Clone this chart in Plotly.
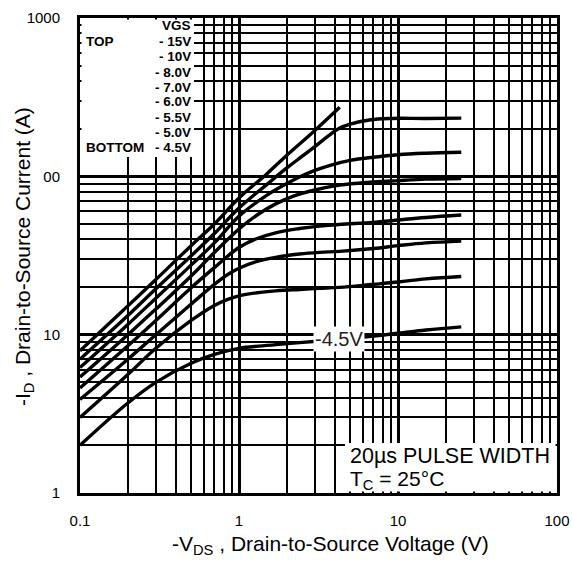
import plotly.graph_objects as go

# ---------------- data ----------------
vgs_labels = ["-15V", "-10V", "-8.0V", "-7.0V", "-6.0V", "-5.5V", "-5.0V", "-4.5V"]

vds_15 = [0.1, 0.15, 0.2, 0.3, 0.5, 0.7, 1.0, 1.5, 2.0, 3.0, 4.3]
id_15 = [7.9, 11.6, 15.2, 22.3, 36.5, 50, 73, 104, 136, 195, 273]

vds_10 = [0.1, 0.2, 0.3, 0.5, 0.7, 1.0, 1.5, 2.0, 2.5, 3.0, 3.7, 4.3, 5.0, 6.6, 9, 15, 25]
id_10 = [7.0, 13.2, 19.5, 31.5, 43.5, 63, 89, 113, 134, 154, 182, 202, 214, 227, 232, 232, 233]

vds_8 = [0.1, 0.2, 0.3, 0.5, 0.7, 1.0, 1.5, 2.0, 2.4, 3.0, 3.7, 5.0, 7, 10, 15, 25]
id_8 = [6.2, 11.6, 17, 27.5, 38, 56, 76, 90, 99, 109, 117, 126, 132, 137, 140, 142]

vds_7 = [0.1, 0.2, 0.3, 0.5, 0.7, 1.0, 1.3, 1.7, 2.2, 3.0, 4.3, 7, 10, 15, 25]
id_7 = [5.4, 10, 14.5, 23.5, 33, 46.5, 57, 67, 75, 82, 88, 92, 94, 96, 97]

vds_6 = [0.1, 0.2, 0.3, 0.5, 0.7, 1.0, 1.3, 1.7, 2.4, 3.2, 4.3, 7, 10, 15, 25]
id_6 = [4.6, 8.5, 12.3, 19.8, 26.5, 35.5, 40.5, 44, 46.8, 48.5, 49.7, 51.2, 53, 55, 57]

vds_55 = [0.1, 0.2, 0.3, 0.5, 0.7, 0.85, 1.0, 1.3, 1.7, 2.4, 3.2, 4.3, 7, 10, 15, 25]
id_55 = [3.9, 7.0, 10, 15.6, 20.8, 24, 26.3, 29, 30.8, 32.3, 33.1, 33.6, 35, 36.5, 38, 39]

vds_5 = [0.1, 0.2, 0.3, 0.5, 0.7, 0.85, 1.0, 1.3, 1.7, 2.4, 3.2, 4.3, 7, 10, 15, 25]
id_5 = [3.0, 5.6, 8.2, 12.3, 15.3, 16.7, 17.6, 18.4, 18.9, 19.3, 19.6, 19.9, 20.8, 21.5, 22.5, 23.3]

vds_45 = [0.1, 0.2, 0.3, 0.5, 0.7, 1.0, 1.4, 2.4, 4.0, 7, 10, 15, 25]
id_45 = [2.0, 3.7, 5.0, 6.6, 7.5, 8.2, 8.5, 8.9, 9.3, 9.8, 10.2, 10.7, 11.2]

series_x = [vds_15, vds_10, vds_8, vds_7, vds_6, vds_55, vds_5, vds_45]
series_y = [id_15, id_10, id_8, id_7, id_6, id_55, id_5, id_45]

x_decades = [0.1, 1, 10, 100]
y_decades = [1, 10, 100, 1000]
x_ticktext = ["0.1", "1", "10", "100"]
y_ticktext = ["1", "10", "00", "1000"]

legend_rows = ["VGS", "- 15V", "- 10V", "- 8.0V", "- 7.0V", "- 6.0V", "- 5.5V", "- 5.0V", "- 4.5V"]

# ---------------- figure ----------------
FONT = "Liberation Sans, Arial, sans-serif"
fig = go.Figure()
for lab, xs, ys in zip(vgs_labels, series_x, series_y):
    fig.add_trace(go.Scatter(x=xs, y=ys, mode="lines", name=lab,
                             line=dict(color="black", width=3.4, shape="spline", smoothing=1.1),
                             showlegend=False, hoverinfo="skip"))

def minor_vals(decades):
    vals = []
    for d in decades[:-1]:
        vals += [d * k for k in range(2, 10)]
    return vals

fig.update_xaxes(type="log", range=[-1, 2], tickvals=x_decades, ticktext=x_ticktext,
                 showgrid=True, gridcolor="black", gridwidth=2.6,
                 minor=dict(tickvals=minor_vals(x_decades), showgrid=True,
                            gridcolor="black", gridwidth=1.5, ticks=""),
                 showline=True, mirror=True, linecolor="black", linewidth=3,
                 ticks="", ticklabelstandoff=12, automargin=False,
                 tickfont=dict(family=FONT, size=15, color="black"))
fig.update_yaxes(type="log", range=[0, 3], tickvals=y_decades, ticktext=y_ticktext,
                 showgrid=True, gridcolor="black", gridwidth=2.6,
                 minor=dict(tickvals=minor_vals(y_decades), showgrid=True,
                            gridcolor="black", gridwidth=1.5, ticks=""),
                 showline=True, mirror=True, linecolor="black", linewidth=3,
                 ticks="", ticklabelstandoff=14, automargin=False,
                 tickfont=dict(family=FONT, size=15, color="black"))

def px2paper(px, py):
    return (px - 80) / 477.0, (493 - py) / 475.0

shapes = []
# white legend box (top-left)
lx0, ly0 = px2paper(81.5, 157)
lx1, ly1 = px2paper(194, 19.5)
shapes.append(dict(type="rect", xref="paper", yref="paper", x0=lx0, x1=lx1, y0=ly0, y1=ly1,
                   fillcolor="white", line=dict(width=0), layer="above"))
# white note box (bottom-right)
bx0, by0 = px2paper(345, 491.5)
bx1, by1 = px2paper(555.5, 443)
shapes.append(dict(type="rect", xref="paper", yref="paper", x0=bx0, x1=bx1, y0=by0, y1=by1,
                   fillcolor="white", line=dict(width=0), layer="above"))
fig.update_layout(shapes=shapes)

ann = []
row_y = [25, 41.5, 56.8, 72, 87, 101.5, 117, 132.5, 147.5]
for txt, py in zip(legend_rows, row_y):
    ax, ay = px2paper(193, py)
    ann.append(dict(text=f"<b>{txt}</b>", x=ax, y=ay, xref="paper", yref="paper",
                    xanchor="right", yanchor="middle", showarrow=False,
                    font=dict(family=FONT, size=13.5, color="black")))
for txt, py in [("TOP", 41.5), ("BOTTOM", 147.5)]:
    ax, ay = px2paper(84, py)
    ann.append(dict(text=f"<b>{txt}</b>", x=ax, y=ay, xref="paper", yref="paper",
                    xanchor="left", yanchor="middle", showarrow=False,
                    font=dict(family=FONT, size=13.5, color="black")))

# curve label
cx, cy = px2paper(339, 339)
ann.append(dict(text="-4.5V", x=cx, y=cy, xref="paper", yref="paper",
                xanchor="center", yanchor="middle", showarrow=False, bgcolor="white",
                borderpad=1, font=dict(family=FONT, size=20, color="#222")))

# note text
nx, ny = px2paper(348, 456)
ann.append(dict(text="20µs PULSE WIDTH", x=nx, y=ny, xref="paper", yref="paper",
                xanchor="left", yanchor="middle", showarrow=False,
                font=dict(family=FONT, size=21.5, color="black")))
nx, ny = px2paper(348, 480)
ann.append(dict(text="T<sub>C</sub> = 25°C", x=nx, y=ny, xref="paper", yref="paper",
                xanchor="left", yanchor="middle", showarrow=False,
                font=dict(family=FONT, size=21, color="black")))

# axis titles
tx, ty = px2paper(330, 545)
ann.append(dict(text="-V<sub>DS</sub> , Drain-to-Source Voltage (V)", x=tx, y=ty,
                xref="paper", yref="paper", xanchor="center", yanchor="middle",
                showarrow=False, font=dict(family=FONT, size=21, color="black")))
tx, ty = px2paper(24, 257)
ann.append(dict(text="-I<sub>D</sub> , Drain-to-Source Current (A)", x=tx, y=ty,
                xref="paper", yref="paper", xanchor="center", yanchor="middle",
                textangle=-90, showarrow=False, font=dict(family=FONT, size=21, color="black")))

fig.update_layout(annotations=ann, width=572, height=563,
                  margin=dict(l=80, r=15, t=18, b=70),
                  paper_bgcolor="white", plot_bgcolor="white", showlegend=False)

fig.write_html("out.html")
